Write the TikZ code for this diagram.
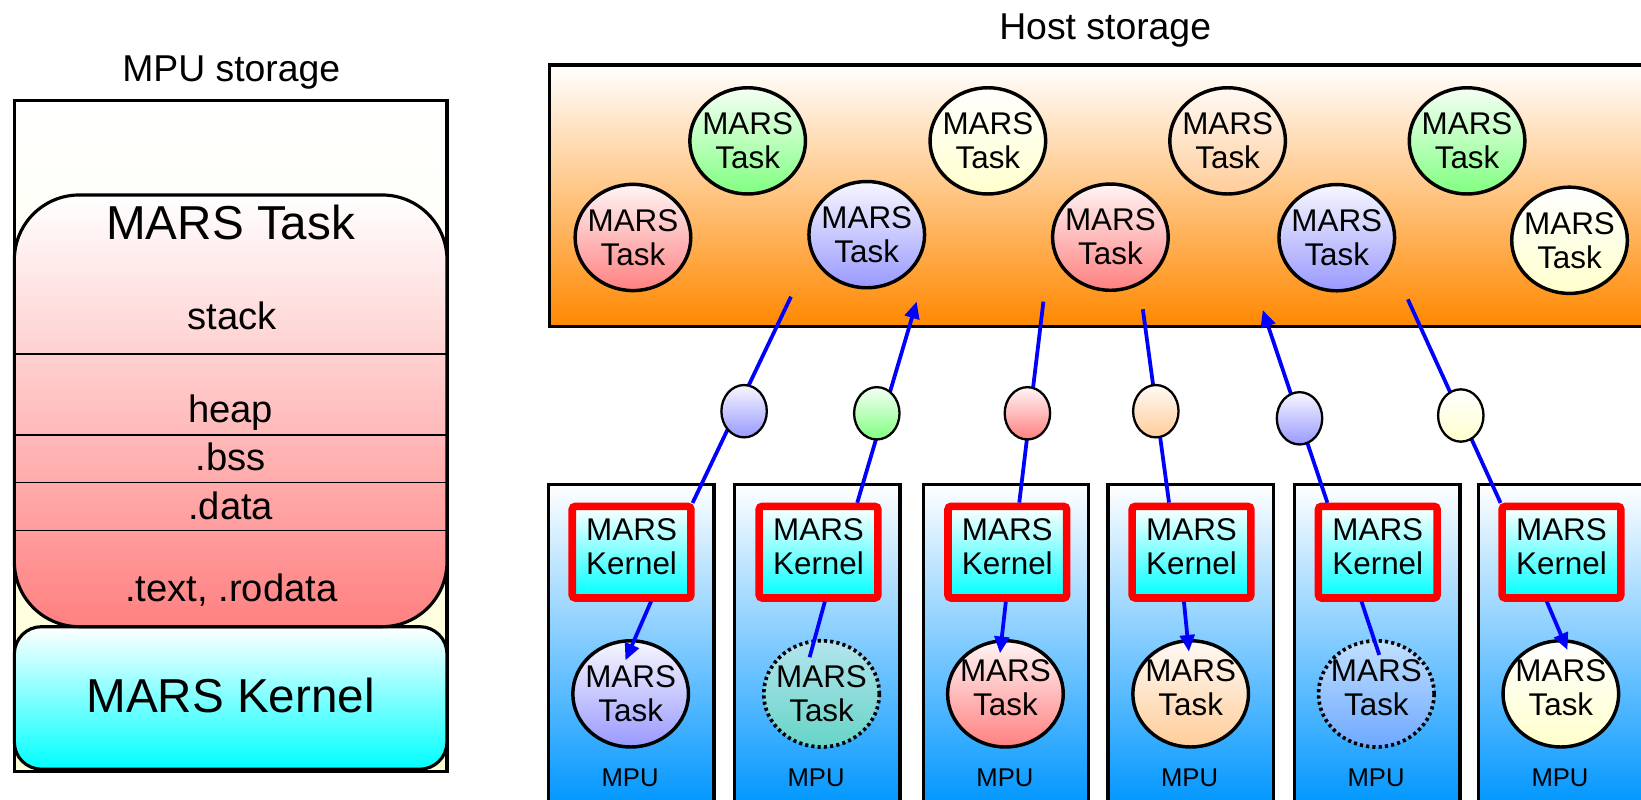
\documentclass[tikz,border=0pt]{standalone}
\usepackage{fontspec}
\setmainfont{Liberation Sans}
\usetikzlibrary{arrows.meta,calc,shapes.geometric}

\definecolor{tred}{HTML}{FF8080}
\definecolor{tgreen}{HTML}{80FF80}
\definecolor{tblue}{HTML}{9999FF}
\definecolor{tyellow}{HTML}{FFFFCC}
\definecolor{tpeach}{HTML}{FFCC99}
\definecolor{hostor}{HTML}{FF8800}
\definecolor{mpublue}{HTML}{0096FF}
\definecolor{kcyan}{HTML}{00FFFF}
\definecolor{paleyel}{HTML}{FFFFD5}
\definecolor{linkblue}{HTML}{0000FF}
\definecolor{tealtop}{HTML}{B4E4EE}
\definecolor{tealbot}{HTML}{66D4C6}
\definecolor{skytop}{HTML}{C0E0FF}
\definecolor{skybot}{HTML}{6EA8FF}

\tikzset{
  every node/.style={inner sep=0pt, outer sep=0pt},
  caption/.style={font=\fontsize{35.7}{40}\selectfont, anchor=base},
  segtext/.style={font=\fontsize{36.5}{40}\selectfont, anchor=base},
  bigtext/.style={font=\fontsize{45.5}{50}\selectfont, anchor=base},
  mputext/.style={font=\fontsize{24.5}{28}\selectfont, anchor=base},
  panel/.style={draw, line width=3pt, minimum width=413.4pt},
  task/.style={ellipse, draw, line width=3.3pt, inner sep=-6pt,
    minimum width=110.5pt, minimum height=101.5pt, align=center,
    font=\fontsize{30}{32.5}\selectfont},
  raised/.style={text depth=13pt},
  idle/.style={dash pattern=on 3pt off 3pt, line width=3.5pt},
  token/.style={ellipse, draw, line width=2.2pt, minimum width=43.4pt, minimum height=50pt},
  shred/.style={top color=tred!8, bottom color=tred},
  shgreen/.style={top color=tgreen!8, bottom color=tgreen},
  shblue/.style={top color=tblue!8, bottom color=tblue},
  shyellow/.style={top color=white, bottom color=tyellow},
  shpeach/.style={top color=tpeach!10, bottom color=tpeach},
  shteal/.style={top color=tealtop, bottom color=tealbot},
  shsky/.style={top color=skytop, bottom color=skybot},
  mpucol/.style={draw, line width=3.4pt, minimum width=158pt, minimum height=307.2pt,
    top color=white, bottom color=mpublue},
  kernel/.style={draw=red, line width=7.2pt, rounded corners=3pt,
    minimum width=113.4pt, minimum height=87.6pt, top color=white, bottom color=kcyan,
    align=center, font=\fontsize{30}{32.5}\selectfont, text depth=11pt},
  link/.style={draw=linkblue, line width=3.6pt},
  tip/.style={-{Triangle[length=16pt,width=14pt]}},
}

\begin{document}
\begin{tikzpicture}[x=1pt,y=-1pt]
\useasboundingbox (0,0) rectangle (1568,764);
\clip (0,0) rectangle (1568,764);
\fill[white] (0,0) rectangle (1568,764);

% ---------- MPU local storage layout ----------
\node[caption] (mpucap) at (221,77.6) {MPU storage};
\node[panel, minimum height=641.2pt, top color=white, bottom color=paleyel] (store) at (220.4,416.7) {};
\node[panel, minimum height=136.2pt, rounded corners=26pt, top color=white, bottom color=kcyan] (kimg) at (220.4,666.9) {};
\node[panel, minimum height=412.5pt, rounded corners=62pt, top color=white, bottom color=tred] (timg) at (220.4,392.55) {};
\foreach \yy in {338.2,415.5,460.8,507}
  \draw[line width=1.3pt] (13.7,\yy) -- (427.1,\yy);
\node[bigtext] (ttitle) at (220.4,228.7) {MARS Task};
\node[segtext] (sstack) at (222,314.7) {stack};
\node[segtext] (sheap) at (220.4,404) {heap};
\node[segtext] (sbss) at (220.4,450) {.bss};
\node[segtext] (sdata) at (220.4,496.5) {.data};
\node[segtext] (stext) at (221,574.5) {.text, .rodata};
\node[bigtext] (ktitle) at (220.4,680.6) {MARS Kernel};

% ---------- host storage with queued tasks ----------
\node[caption] (hostcap) at (1056,38) {Host storage};
\node[draw, line width=3.2pt, top color=white, bottom color=hostor,
      minimum width=1100pt, minimum height=250pt, anchor=north west] (host) at (524.8,62.1) {};

\node[task, shgreen]  (hA) at (714.4,134.6) {MARS\\Task};
\node[task, shyellow] (hB) at (943.9,134.6) {MARS\\Task};
\node[task, shpeach]  (hC) at (1173,134.6) {MARS\\Task};
\node[task, shgreen]  (hD) at (1401.8,134.6) {MARS\\Task};
\node[task, shred]    (hE) at (604.8,226.9) {MARS\\Task};
\node[task, shblue]   (hF) at (828.2,224.2) {MARS\\Task};
\node[task, shred]    (hG) at (1061,226.6) {MARS\\Task};
\node[task, shblue]   (hH) at (1277.3,227.1) {MARS\\Task};
\node[task, shyellow] (hI) at (1499.7,229.6) {MARS\\Task};

% ---------- MPU columns ----------
\foreach \cx [count=\i] in {603,780.75,961.25,1137.65,1315.8,1491.6} {
  \node[mpucol] (c\i) at (\cx,616.4) {};
  \node[mputext] (m\i) at (\cx-1,751.6) {MPU};
}

\node[task, shblue]           (t1) at (602.6,663) {MARS\\Task};
\node[task, shteal, idle]     (t2) at (785,663) {MARS\\Task};
\node[task, shred, raised]    (t3) at (960.7,663) {MARS\\Task};
\node[task, shpeach, raised]  (t4) at (1137.7,663) {MARS\\Task};
\node[task, shsky, idle, raised] (t5) at (1315.1,663) {MARS\\Task};
\node[task, shyellow, raised] (t6) at (1491.4,663) {MARS\\Task};

\node[kernel] (k1) at (603.5,527.6) {MARS\\Kernel};
\node[kernel] (k2) at (782.1,527.6) {MARS\\Kernel};
\node[kernel] (k3) at (962.5,527.6) {MARS\\Kernel};
\node[kernel] (k4) at (1138.5,527.6) {MARS\\Kernel};
\node[kernel] (k5) at (1316.5,527.6) {MARS\\Kernel};
\node[kernel] (k6) at (1492,527.6) {MARS\\Kernel};

% ---------- transfer paths ----------
\coordinate (h1) at (755.8,283.5);
\coordinate (h2) at (875.9,288.2);
\coordinate (h3) at (997,288.2);
\coordinate (h4) at (1092,295.5);
\coordinate (h5) at (1206.6,296.2);
\coordinate (h6) at (1345.2,286);

\coordinate (k2n) at ($(k2.north)+(36,0)$);
\coordinate (k3n) at ($(k3.north)+(11,0)$);
\coordinate (k4n) at ($(k4.north)+(-21,0)$);
\coordinate (k5n) at ($(k5.north)+(-47,0)$);

\coordinate (k1s) at ($(k1.south)+(20,0)$);
\coordinate (k2s) at ($(k2.south)+(7,0)$);
\coordinate (k3s) at ($(k3.south)+(-1,0)$);
\coordinate (k4s) at ($(k4.south)+(-7.6,0)$);
\coordinate (k5s) at ($(k5.south)+(-16.7,0)$);
\coordinate (k6s) at ($(k6.south)+(-15.5,0)$);

\coordinate (t1i) at ($(t1.center)+(-5,-32)$);
\coordinate (t2i) at ($(t2.center)+(-11.4,-35)$);
\coordinate (t3i) at ($(t3.center)+(-5.2,-38.8)$);
\coordinate (t4i) at ($(t4.center)+(-1.7,-40.3)$);
\coordinate (t5i) at ($(t5.center)+(2.8,-37.2)$);
\coordinate (t6i) at ($(t6.center)+(6.3,-42)$);

\draw[link, shorten >=3.6pt] (h1) -- (k1.north east);
\draw[link, tip, shorten <=3.6pt] (k2n) -- (h2);
\draw[link, shorten >=3.6pt] (h3) -- (k3n);
\draw[link, shorten >=3.6pt] (h4) -- (k4n);
\draw[link, tip, shorten <=3.6pt] (k5n) -- (h5);
\draw[link, shorten >=3.6pt] (h6) -- (k6.north west);

\draw[link, tip, shorten <=3.6pt] (k1s) -- (t1i);
\draw[link, shorten <=3.6pt] (k2s) -- (t2i);
\draw[link, tip, shorten <=3.6pt] (k3s) -- (t3i);
\draw[link, tip, shorten <=3.6pt] (k4s) -- (t4i);
\draw[link, shorten <=3.6pt] (k5s) -- (t5i);
\draw[link, tip, shorten <=3.6pt] (k6s) -- (t6i);

% ---------- tokens in flight ----------
\node[token, shblue]   (e1) at (711,392.9) {};
\node[token, shgreen]  (e2) at (837.8,394.9) {};
\node[token, shred]    (e3) at (981.7,394.9) {};
\node[token, shpeach]  (e4) at (1104.4,392.9) {};
\node[token, shblue]   (e5) at (1241.7,399.7) {};
\node[token, shyellow] (e6) at (1395.8,397) {};
\end{tikzpicture}
\end{document}
